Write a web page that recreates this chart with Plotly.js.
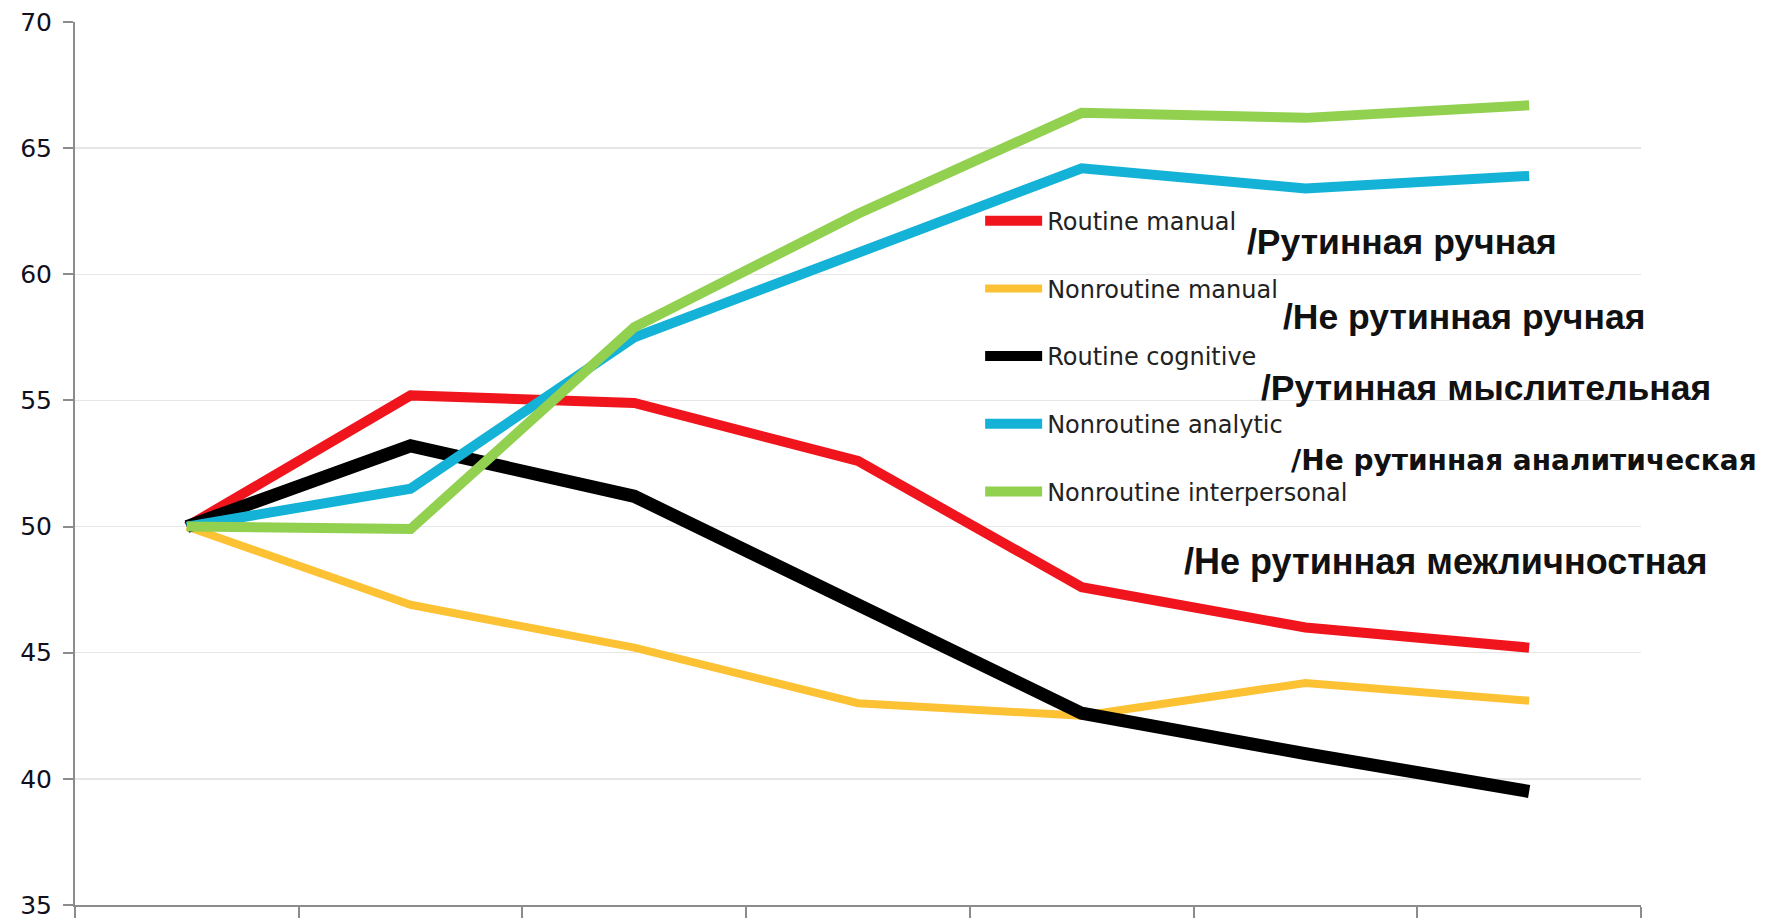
<!DOCTYPE html>
<html>
<head>
<meta charset="utf-8">
<script src="https://cdn.plot.ly/plotly-3.0.1.min.js"></script>
<style>html,body{margin:0;padding:0;background:#fff;}#chart{width:1777px;height:921px;}</style>
</head>
<body>
<div id="chart"></div>
<script>
// Categories (years; tick labels hidden in the reference)
const years = ["1960", "1970", "1980", "1990", "2000", "2006", "2009"];

// Series values (task input percentile, 1960 = 50)
const routineManual          = [50, 55.2, 54.9, 52.6, 47.6, 46.0, 45.2];
const nonroutineManual       = [50, 46.9, 45.2, 43.0, 42.5, 43.8, 43.1];
const routineCognitive       = [50, 53.2, 51.2, 46.9, 42.6, 41.0, 39.5];
const nonroutineAnalytic     = [50, 51.5, 57.5, 60.8, 64.2, 63.4, 63.9];
const nonroutineInterpersonal= [50, 49.9, 57.9, 62.4, 66.4, 66.2, 66.7];

// Legend names and Russian captions
const seriesNames = ["Routine manual", "Nonroutine manual", "Routine cognitive", "Nonroutine analytic", "Nonroutine interpersonal"];
const russianLabels = ["/Рутинная ручная", "/Не рутинная ручная", "/Рутинная мыслительная", "/Не рутинная аналитическая", "/Не рутинная межличностная"];

// Y axis ticks
const yTicks = [35, 40, 45, 50, 55, 60, 65, 70];

const seriesValues = [routineManual, nonroutineManual, routineCognitive, nonroutineAnalytic, nonroutineInterpersonal];
const colors = ["#f0141c", "#fcc234", "#000000", "#14b2d6", "#92d050"];
const widths = [10, 8, 13, 10, 10];

const traces = seriesValues.map((vals, i) => ({
  type: "scatter",
  mode: "lines",
  x: years,
  y: vals,
  name: seriesNames[i],
  legendgroup: "g" + i,
  line: {color: colors[i], width: widths[i]},
  hoverinfo: "x+y+name"
}));

// [x, y, size, family]
const annPos = [
  [0.7471, 0.7508, 35.5, "Liberation Sans, Arial, sans-serif"],
  [0.7700, 0.6663, 35.5, "Liberation Sans, Arial, sans-serif"],
  [0.7560, 0.5851, 35.5, "Liberation Sans, Arial, sans-serif"],
  [0.7750, 0.5039, 28, "DejaVu Sans, sans-serif"],
  [0.7069, 0.3890, 36, "Liberation Sans, Arial, sans-serif"]
];

const annotations = russianLabels.map((t, i) => ({
  text: "<b>" + t + "</b>",
  xref: "paper", yref: "paper",
  x: annPos[i][0], y: annPos[i][1],
  xanchor: "left", yanchor: "middle",
  showarrow: false,
  font: {family: annPos[i][3], size: annPos[i][2], color: "#111"}
}));

const layout = {
  width: 1777,
  height: 921,
  margin: {l: 75, r: 136, t: 22, b: 16},
  paper_bgcolor: "#ffffff",
  plot_bgcolor: "#ffffff",
  showlegend: true,
  legend: {
    x: 0.578, y: 0.800, xanchor: "left", yanchor: "top",
    bgcolor: "rgba(0,0,0,0)",
    font: {family: "DejaVu Sans, sans-serif", size: 24, color: "#222"},
    tracegroupgap: 33.5,
    itemwidth: 57
  },
  xaxis: {
    type: "category",
    showticklabels: false,
    showgrid: false,
    showline: true,
    linecolor: "#8c8c8c",
    linewidth: 2,
    ticks: "outside",
    tickson: "boundaries",
    ticklen: 11,
    tickwidth: 2,
    tickcolor: "#8c8c8c",
    zeroline: false,
    range: [-0.5, 6.5]
  },
  yaxis: {
    range: [35, 70],
    tickvals: yTicks,
    ticktext: yTicks.map(String),
    showgrid: true,
    gridcolor: "#e6e6e6",
    gridwidth: 1.5,
    showline: true,
    linecolor: "#8c8c8c",
    linewidth: 2,
    ticks: "outside",
    ticklen: 10,
    tickwidth: 2,
    tickcolor: "#8c8c8c",
    zeroline: false,
    ticklabelstandoff: 6,
    ticklabeloverflow: "allow",
    tickfont: {family: "DejaVu Sans, sans-serif", size: 25, color: "#101020"}
  },
  annotations: annotations
};

Plotly.newPlot("chart", traces, layout, {displayModeBar: false, staticPlot: true});
</script>
</body>
</html>
